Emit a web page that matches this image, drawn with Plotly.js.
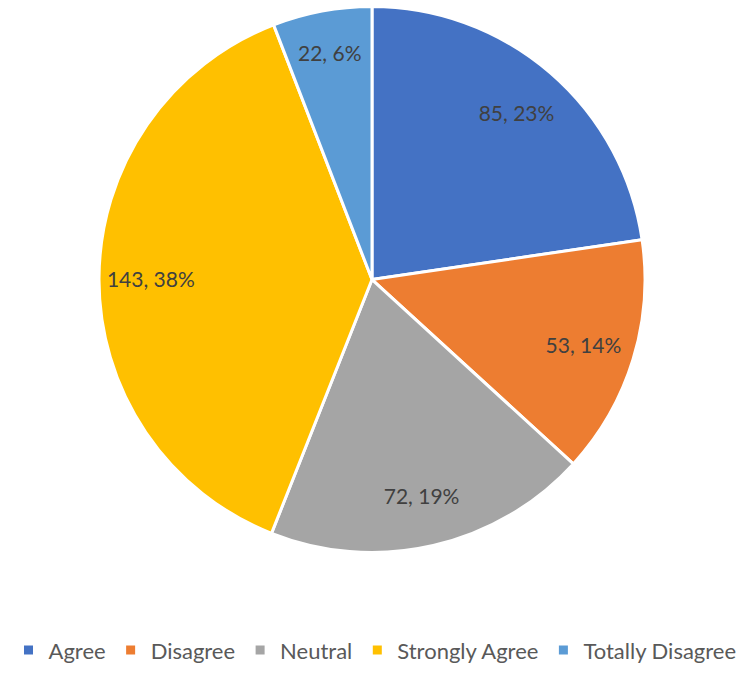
<!DOCTYPE html>
<html>
<head>
<meta charset="utf-8">
<script src="https://cdn.plot.ly/plotly-3.0.1.min.js"></script>
<style>html,body{margin:0;padding:0;background:#fff;}#chart{width:750px;height:676px;}</style>
</head>
<body>
<div id="chart"></div>
<script>
const categories = ["Agree", "Disagree", "Neutral", "Strongly Agree", "Totally Disagree"];
const counts = [85, 53, 72, 143, 22];
const colors = ["#4472C4", "#ED7D31", "#A5A5A5", "#FFC000", "#5B9BD5"];

const pieDomain = {x: [0.132, 0.86], y: [0.182, 0.991]};
const labelFont = {family: "Lato, 'Open Sans', sans-serif", size: 21, color: "#404040"};

const slices = {
  type: "pie",
  labels: categories,
  values: counts,
  sort: false,
  direction: "clockwise",
  rotation: 0,
  marker: {colors: colors, line: {color: "#ffffff", width: 3}},
  textinfo: "none",
  hoverinfo: "label+value+percent",
  domain: pieDomain
};

// transparent ring used only to place the data labels further out, as in the reference
const labelRing = {
  type: "pie",
  labels: categories,
  values: counts,
  sort: false,
  direction: "clockwise",
  rotation: 0,
  hole: 0.62,
  showlegend: false,
  marker: {colors: categories.map(() => "rgba(0,0,0,0)"), line: {width: 0}},
  texttemplate: "%{value}, %{percent:.0%}",
  textposition: "inside",
  insidetextorientation: "horizontal",
  textfont: labelFont,
  hoverinfo: "skip",
  domain: pieDomain
};

const layout = {
  width: 750,
  height: 676,
  margin: {l: 0, r: 0, t: 0, b: 0},
  paper_bgcolor: "#ffffff",
  showlegend: true,
  legend: {
    orientation: "h",
    x: 0.5, xanchor: "center",
    y: 0.038, yanchor: "middle",
    font: {family: "Lato, 'Open Sans', sans-serif", size: 22, color: "#595959"},
    itemwidth: 30,
    traceorder: "normal"
  }
};

Plotly.newPlot("chart", [slices, labelRing], layout, {displayModeBar: false, staticPlot: true});
</script>
</body>
</html>
